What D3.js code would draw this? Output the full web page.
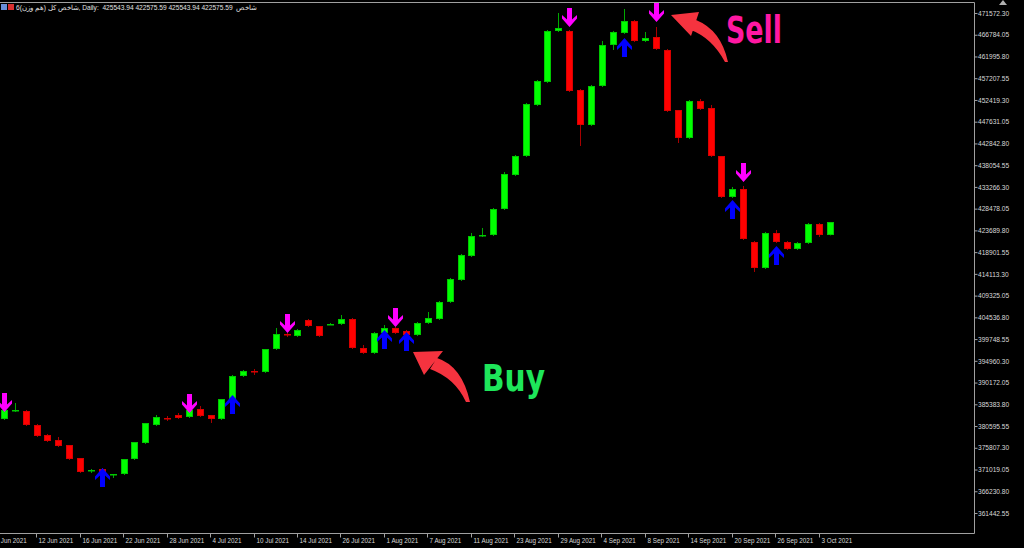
<!DOCTYPE html>
<html>
<head>
<meta charset="utf-8">
<script src="https://d3js.org/d3.v7.min.js"></script>
<style>
  html, body { margin: 0; padding: 0; background: #000; }
  svg { display: block; }
</style>
</head>
<body>
<script>
// daily candles, one entry per bar (oldest first)
var barOpen  = [382147,383909,383909,380825,378623,377522,376420,373557,370694,371134,
                369812,370033,373337,376861,380825,382367,383028,382588,384350,383028,
                382147,386552,391618,392720,392499,397565,400869,400429,403953,402631,
                402851,403072,404173,397786,396684,401089,402191,401530,400649,403292,
                404173,407917,412763,418049,422455,422675,428402,435890,440075,451309,
                456375,467608,467608,454613,446903,455494,464524,467167,469811,465405,
                466286,463423,450207,444040,452190,450648,440075,431045,432807,421133,
                415406,423115,421133,419591,420913,425098,422575.59];
var barHigh  = [384790,385671,384129,381046,378843,378182,376420,373557,371134,371354,
                370033,373337,377081,381266,383028,382808,383469,384350,385010,383028,
                386552,391838,392940,393160,397565,402191,401089,401970,404173,402631,
                403292,405054,404393,398446,401310,402851,402411,401750,403512,405715,
                408138,413204,418490,423115,424217,428622,436551,440296,451749,456815,
                467828,471573,467828,454833,455714,465405,467608,472454,470031,467388,
                468489,463643,450207,452410,452630,451309,440075,433247,433468,421353,
                423336,423776,421353,421133,425318,425318,425543.94];
var barLow   = [381927,383689,380605,378182,377081,375980,373116,370253,370253,370253,
                369152,369812,373116,376641,380605,381707,382147,382367,382588,381266,
                381927,386332,391398,391838,392279,397345,400208,400208,402411,400208,
                402851,402851,397565,396464,396464,400869,400869,400429,400429,403072,
                403953,407697,412543,417829,422234,422455,428181,435670,439855,451088,
                456154,467388,454172,442278,446683,455273,463423,466947,465185,465185,
                463423,449767,442939,443820,450207,439855,430825,430825,421574,414525,
                415186,420913,419371,419371,420693,422234,422575.59];
var barClose = [384129,384129,380825,378403,377301,376200,373337,370473,370914,370473,
                370033,373337,377081,381266,382588,382147,382367,384129,382808,382147,
                386552,391618,392720,392499,397565,400869,400649,401750,402631,400429,
                403072,404173,397786,396684,401089,402191,401089,400649,403292,404393,
                407917,412983,418270,422455,422675,428402,436111,440075,451529,456595,
                467608,468269,454392,446903,455494,464524,467388,469811,465405,466066,
                463643,449987,444040,452190,450428,440075,431045,432807,421794,415406,
                423115,421133,419591,420913,425098,422675,425543.94];

// indicator signals: bar index and arrow tip price
var sellIdx = [0, 17, 26, 36, 52, 60, 68];
var sellAt  = [383689, 383469, 401089, 402411, 468489, 469590, 434349];
var buyIdx  = [9, 21, 35, 37, 57, 67, 71];
var buyAt   = [371354, 387433, 401750, 401310, 466066, 430384, 420252];

// time scale labels (bar index where each label sits)
var xTickIdx    = [-1, 3, 7, 11, 15, 19, 23, 27, 31, 35, 39, 43, 47, 51, 55, 59, 63, 67, 71, 75];
var xTickLabels = ["6 Jun 2021","12 Jun 2021","16 Jun 2021","22 Jun 2021","28 Jun 2021",
                   "4 Jul 2021","10 Jul 2021","14 Jul 2021","26 Jul 2021","1 Aug 2021",
                   "7 Aug 2021","11 Aug 2021","23 Aug 2021","29 Aug 2021","4 Sep 2021",
                   "8 Sep 2021","14 Sep 2021","20 Sep 2021","26 Sep 2021","3 Oct 2021"];
// price scale labels
var yTicks = [471572.30,466784.05,461995.80,457207.55,452419.30,447631.05,442842.80,438054.55,
              433266.30,428478.05,423689.80,418901.55,414113.30,409325.05,404536.80,399748.55,
              394960.30,390172.05,385383.80,380595.55,375807.30,371019.05,366230.80,361442.55];

var header = "شاخص کل (هم وزن)6, Daily:  425543.94 422575.59 425543.94 422575.59  شاخص";

var W = 1024, H = 548;
var plotRight = 974, plotTop = 2, plotBottom = 533;

var svg = d3.select("body").append("svg")
    .attr("width", W).attr("height", H);
svg.append("rect").attr("width", W).attr("height", H).attr("fill", "#000");

var x = d3.scaleLinear().domain([0, barOpen.length - 1]).range([4, 830.1]);
var y = d3.scaleLinear().domain([357037, 473995]).range([plotBottom, plotTop]);

// frame
svg.append("path")
    .attr("d", "M0," + (plotTop + 0.5) + "H" + (plotRight + 0.5) + "V" + (plotBottom + 0.5) + "H0")
    .attr("fill", "none").attr("stroke", "#a0a0a0");

// price axis
var yAxis = svg.append("g")
    .attr("transform", "translate(" + (plotRight + 0.5) + ",0)")
    .call(d3.axisRight(y).tickValues(yTicks).tickSize(3).tickSizeOuter(0)
          .tickFormat(d3.format(".2f")));
yAxis.select(".domain").remove();
yAxis.selectAll(".tick line").attr("stroke", "#a0a0a0");
yAxis.selectAll(".tick text")
    .attr("x", 3.5).attr("dy", "0.33em").attr("fill", "#d8d8d8")
    .style("font", "6.6px 'Liberation Sans', Arial, sans-serif");

// time axis
var xAxis = svg.append("g")
    .attr("transform", "translate(0," + (plotBottom + 0.5) + ")")
    .call(d3.axisBottom(x).tickValues(xTickIdx).tickSize(4).tickSizeOuter(0)
          .tickFormat(function (d, i) { return xTickLabels[i]; }));
xAxis.select(".domain").remove();
xAxis.selectAll(".tick").attr("transform", function (d) {
  return "translate(" + (Math.floor(x(d)) + 0.5) + ",0)";
});
xAxis.selectAll(".tick line").attr("stroke", "#a0a0a0");
xAxis.selectAll(".tick text")
    .attr("text-anchor", "start").attr("x", 2).attr("y", 4).attr("dy", "0.9em")
    .attr("fill", "#d8d8d8")
    .style("font", "6.3px 'Liberation Sans', Arial, sans-serif");

// candles
var idx = d3.range(barOpen.length);
function isUp(i) { return barClose[i] >= barOpen[i]; }
var bars = svg.append("g").selectAll("g").data(idx).join("g");
bars.append("line")
    .attr("x1", function (i) { return Math.round(x(i)) + 0.5; })
    .attr("x2", function (i) { return Math.round(x(i)) + 0.5; })
    .attr("y1", function (i) { return y(barHigh[i]); })
    .attr("y2", function (i) { return y(barLow[i]); })
    .attr("stroke", function (i) { return isUp(i) ? "#00a800" : "#a80000"; });
bars.append("rect")
    .attr("x", function (i) { return Math.round(x(i)) - 2.5; })
    .attr("width", 6)
    .attr("y", function (i) { return Math.round(y(Math.max(barOpen[i], barClose[i]))) + 0.5; })
    .attr("height", function (i) {
      return Math.max(0.5, Math.round(Math.abs(y(barOpen[i]) - y(barClose[i]))) - 1);
    })
    .attr("fill", function (i) { return isUp(i) ? "#00ff00" : "#ff0000"; })
    .attr("stroke", function (i) { return isUp(i) ? "#00c800" : "#d80000"; });

// signal arrows (tip at 0,0, pointing up)
var arrowUp = "M0,0L7.5,8.5L7.5,12L2.5,7.5L2.5,19L-2.5,19L-2.5,7.5L-7.5,12L-7.5,8.5Z";
svg.append("g").selectAll("path").data(buyIdx).join("path")
    .attr("d", arrowUp)
    .attr("transform", function (d, k) {
      return "translate(" + (Math.round(x(d)) + 0.5) + "," + y(buyAt[k]) + ")";
    })
    .attr("fill", "#0000ff");
svg.append("g").selectAll("path").data(sellIdx).join("path")
    .attr("d", arrowUp)
    .attr("transform", function (d, k) {
      return "translate(" + (Math.round(x(d)) + 0.5) + "," + y(sellAt[k]) + ") scale(1,-1)";
    })
    .attr("fill", "#ff00ff");

// hand drawn notes
var noteRed = "#f5333f";
svg.append("path")
    .attr("d", "M437,358Q462,366 470,402L466,402Q455,378 430,369Z M413,352L443,351L424,375Z")
    .attr("fill", noteRed);
svg.append("path")
    .attr("d", "M696,20Q721,30 728,62L725,62Q712,38 691,30Z M671,15L699,12L691,36Z")
    .attr("fill", noteRed);
svg.append("text").attr("x", 482).attr("y", 391).text("Buy")
    .attr("textLength", 63).attr("lengthAdjust", "spacingAndGlyphs")
    .attr("fill", "#1ee65a")
    .style("font", "bold 37px 'DejaVu Sans', sans-serif");
svg.append("text").attr("x", 726).attr("y", 43).text("Sell")
    .attr("textLength", 56).attr("lengthAdjust", "spacingAndGlyphs")
    .attr("fill", "#ff18a2")
    .style("font", "bold 37px 'DejaVu Sans', sans-serif");

// header line
svg.append("rect").attr("x", 1).attr("y", 4).attr("width", 6).attr("height", 6).attr("fill", "#6a8fd8");
svg.append("rect").attr("x", 8).attr("y", 4).attr("width", 6).attr("height", 6).attr("fill", "#d83030");
svg.append("text").attr("x", 16).attr("y", 10).text(header)
    .attr("fill", "#e0e0e0")
    .style("white-space", "pre")
    .style("font", "6.6px 'Liberation Sans', Arial, sans-serif");
svg.append("path").attr("d", "M999,5L1003,0L1007,5Z").attr("fill", "#b0b0b0");
</script>
</body>
</html>
